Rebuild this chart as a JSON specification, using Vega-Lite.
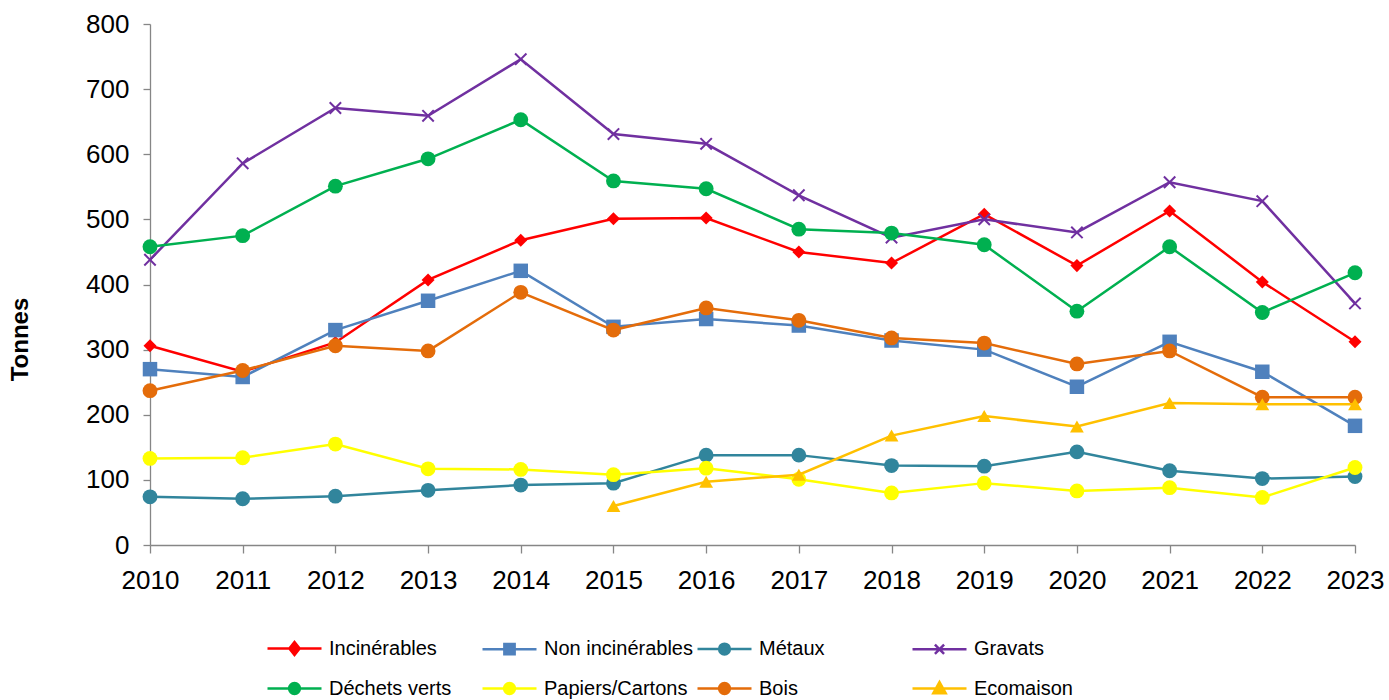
{
  "$schema": "https://vega.github.io/schema/vega-lite/v6.json",
  "autosize": {"type": "none"},
  "width": 1205,
  "height": 521,
  "padding": {"left": 150, "top": 24, "right": 34, "bottom": 155},
  "background": "#ffffff",
  "config": {
    "font": "Liberation Sans",
    "view": {"stroke": null},
    "axis": {"grid": false, "domainColor": "#868686", "tickColor": "#868686", "labelColor": "#000000", "labelFont": "Liberation Sans", "labelFontSize": 26, "domainWidth": 1.3, "tickWidth": 1.3}
  },
  "data": {"values": [
    {"serie": "Incinérables", "annee": 2010, "tonnes": 306},
    {"serie": "Incinérables", "annee": 2011, "tonnes": 266},
    {"serie": "Incinérables", "annee": 2012, "tonnes": 311},
    {"serie": "Incinérables", "annee": 2013, "tonnes": 407},
    {"serie": "Incinérables", "annee": 2014, "tonnes": 468},
    {"serie": "Incinérables", "annee": 2015, "tonnes": 501},
    {"serie": "Incinérables", "annee": 2016, "tonnes": 502},
    {"serie": "Incinérables", "annee": 2017, "tonnes": 450},
    {"serie": "Incinérables", "annee": 2018, "tonnes": 433},
    {"serie": "Incinérables", "annee": 2019, "tonnes": 508},
    {"serie": "Incinérables", "annee": 2020, "tonnes": 429},
    {"serie": "Incinérables", "annee": 2021, "tonnes": 513},
    {"serie": "Incinérables", "annee": 2022, "tonnes": 404},
    {"serie": "Incinérables", "annee": 2023, "tonnes": 312},
    {"serie": "Non incinérables", "annee": 2010, "tonnes": 270},
    {"serie": "Non incinérables", "annee": 2011, "tonnes": 258},
    {"serie": "Non incinérables", "annee": 2012, "tonnes": 330},
    {"serie": "Non incinérables", "annee": 2013, "tonnes": 375},
    {"serie": "Non incinérables", "annee": 2014, "tonnes": 421},
    {"serie": "Non incinérables", "annee": 2015, "tonnes": 335},
    {"serie": "Non incinérables", "annee": 2016, "tonnes": 347},
    {"serie": "Non incinérables", "annee": 2017, "tonnes": 337},
    {"serie": "Non incinérables", "annee": 2018, "tonnes": 314},
    {"serie": "Non incinérables", "annee": 2019, "tonnes": 300},
    {"serie": "Non incinérables", "annee": 2020, "tonnes": 243},
    {"serie": "Non incinérables", "annee": 2021, "tonnes": 312},
    {"serie": "Non incinérables", "annee": 2022, "tonnes": 266},
    {"serie": "Non incinérables", "annee": 2023, "tonnes": 183},
    {"serie": "Métaux", "annee": 2010, "tonnes": 74},
    {"serie": "Métaux", "annee": 2011, "tonnes": 71},
    {"serie": "Métaux", "annee": 2012, "tonnes": 75},
    {"serie": "Métaux", "annee": 2013, "tonnes": 84},
    {"serie": "Métaux", "annee": 2014, "tonnes": 92},
    {"serie": "Métaux", "annee": 2015, "tonnes": 95},
    {"serie": "Métaux", "annee": 2016, "tonnes": 138},
    {"serie": "Métaux", "annee": 2017, "tonnes": 138},
    {"serie": "Métaux", "annee": 2018, "tonnes": 122},
    {"serie": "Métaux", "annee": 2019, "tonnes": 121},
    {"serie": "Métaux", "annee": 2020, "tonnes": 143},
    {"serie": "Métaux", "annee": 2021, "tonnes": 114},
    {"serie": "Métaux", "annee": 2022, "tonnes": 102},
    {"serie": "Métaux", "annee": 2023, "tonnes": 105},
    {"serie": "Gravats", "annee": 2010, "tonnes": 438},
    {"serie": "Gravats", "annee": 2011, "tonnes": 586},
    {"serie": "Gravats", "annee": 2012, "tonnes": 671},
    {"serie": "Gravats", "annee": 2013, "tonnes": 659},
    {"serie": "Gravats", "annee": 2014, "tonnes": 746},
    {"serie": "Gravats", "annee": 2015, "tonnes": 631},
    {"serie": "Gravats", "annee": 2016, "tonnes": 616},
    {"serie": "Gravats", "annee": 2017, "tonnes": 537},
    {"serie": "Gravats", "annee": 2018, "tonnes": 472},
    {"serie": "Gravats", "annee": 2019, "tonnes": 500},
    {"serie": "Gravats", "annee": 2020, "tonnes": 480},
    {"serie": "Gravats", "annee": 2021, "tonnes": 557},
    {"serie": "Gravats", "annee": 2022, "tonnes": 528},
    {"serie": "Gravats", "annee": 2023, "tonnes": 371},
    {"serie": "Déchets verts", "annee": 2010, "tonnes": 458},
    {"serie": "Déchets verts", "annee": 2011, "tonnes": 475},
    {"serie": "Déchets verts", "annee": 2012, "tonnes": 551},
    {"serie": "Déchets verts", "annee": 2013, "tonnes": 593},
    {"serie": "Déchets verts", "annee": 2014, "tonnes": 653},
    {"serie": "Déchets verts", "annee": 2015, "tonnes": 559},
    {"serie": "Déchets verts", "annee": 2016, "tonnes": 547},
    {"serie": "Déchets verts", "annee": 2017, "tonnes": 485},
    {"serie": "Déchets verts", "annee": 2018, "tonnes": 479},
    {"serie": "Déchets verts", "annee": 2019, "tonnes": 461},
    {"serie": "Déchets verts", "annee": 2020, "tonnes": 359},
    {"serie": "Déchets verts", "annee": 2021, "tonnes": 458},
    {"serie": "Déchets verts", "annee": 2022, "tonnes": 357},
    {"serie": "Déchets verts", "annee": 2023, "tonnes": 418},
    {"serie": "Papiers/Cartons", "annee": 2010, "tonnes": 133},
    {"serie": "Papiers/Cartons", "annee": 2011, "tonnes": 134},
    {"serie": "Papiers/Cartons", "annee": 2012, "tonnes": 155},
    {"serie": "Papiers/Cartons", "annee": 2013, "tonnes": 117},
    {"serie": "Papiers/Cartons", "annee": 2014, "tonnes": 116},
    {"serie": "Papiers/Cartons", "annee": 2015, "tonnes": 108},
    {"serie": "Papiers/Cartons", "annee": 2016, "tonnes": 118},
    {"serie": "Papiers/Cartons", "annee": 2017, "tonnes": 101},
    {"serie": "Papiers/Cartons", "annee": 2018, "tonnes": 80},
    {"serie": "Papiers/Cartons", "annee": 2019, "tonnes": 95},
    {"serie": "Papiers/Cartons", "annee": 2020, "tonnes": 83},
    {"serie": "Papiers/Cartons", "annee": 2021, "tonnes": 88},
    {"serie": "Papiers/Cartons", "annee": 2022, "tonnes": 73},
    {"serie": "Papiers/Cartons", "annee": 2023, "tonnes": 119},
    {"serie": "Bois", "annee": 2010, "tonnes": 237},
    {"serie": "Bois", "annee": 2011, "tonnes": 268},
    {"serie": "Bois", "annee": 2012, "tonnes": 306},
    {"serie": "Bois", "annee": 2013, "tonnes": 298},
    {"serie": "Bois", "annee": 2014, "tonnes": 388},
    {"serie": "Bois", "annee": 2015, "tonnes": 330},
    {"serie": "Bois", "annee": 2016, "tonnes": 364},
    {"serie": "Bois", "annee": 2017, "tonnes": 345},
    {"serie": "Bois", "annee": 2018, "tonnes": 318},
    {"serie": "Bois", "annee": 2019, "tonnes": 310},
    {"serie": "Bois", "annee": 2020, "tonnes": 278},
    {"serie": "Bois", "annee": 2021, "tonnes": 298},
    {"serie": "Bois", "annee": 2022, "tonnes": 227},
    {"serie": "Bois", "annee": 2023, "tonnes": 227},
    {"serie": "Ecomaison", "annee": 2015, "tonnes": 60},
    {"serie": "Ecomaison", "annee": 2016, "tonnes": 97},
    {"serie": "Ecomaison", "annee": 2017, "tonnes": 108},
    {"serie": "Ecomaison", "annee": 2018, "tonnes": 168},
    {"serie": "Ecomaison", "annee": 2019, "tonnes": 198},
    {"serie": "Ecomaison", "annee": 2020, "tonnes": 182},
    {"serie": "Ecomaison", "annee": 2021, "tonnes": 218},
    {"serie": "Ecomaison", "annee": 2022, "tonnes": 216},
    {"serie": "Ecomaison", "annee": 2023, "tonnes": 216}
  ]},
  "layer": [
    {"mark": {"type": "point", "filled": true, "opacity": 0},
     "encoding": {
       "x": {"field": "annee", "type": "ordinal", "scale": {"type": "point", "padding": 0},
         "axis": {"title": null, "labelAngle": 0, "tickSize": 8, "labelPadding": 14}},
       "y": {"field": "tonnes", "type": "quantitative", "scale": {"domain": [0, 800], "nice": false},
         "axis": {"title": "Tonnes", "values": [0, 100, 200, 300, 400, 500, 600, 700, 800], "tickSize": 7, "labelPadding": 14,
           "titleFont": "Liberation Sans", "titleFontSize": 24, "titleFontWeight": "bold", "titleColor": "#000000",
           "titleAngle": -90, "titleX": -130, "titleY": 315, "titleAlign": "center", "titleBaseline": "middle"}},
       "color": {"field": "serie", "type": "nominal",
         "scale": {"domain": ["Incinérables", "Non incinérables", "Métaux", "Gravats", "Déchets verts", "Papiers/Cartons", "Bois", "Ecomaison"],
           "range": ["#FF0000", "#4F81BD", "#31859C", "#7030A0", "#00B050", "#FFFF00", "#E46C0A", "#FFC000"]},
         "legend": {"title": null, "orient": "none", "legendX": 116, "legendY": 596, "direction": "horizontal", "columns": 4,
           "gridAlign": "all", "columnPadding": -1, "rowPadding": -17, "labelFont": "Liberation Sans", "labelFontSize": 20, "labelColor": "#000000",
           "labelOffset": 6, "symbolSize": 2916, "symbolOpacity": 1, "symbolStrokeWidth": 2.5, "labelLimit": 300}},
       "shape": {"field": "serie", "type": "nominal",
         "scale": {"domain": ["Incinérables", "Non incinérables", "Métaux", "Gravats", "Déchets verts", "Papiers/Cartons", "Bois", "Ecomaison"],
           "range": [
             "M-1,0H1M0,-0.24L0.19,0L0,0.24L-0.19,0Z",
             "M-1,0H1M-0.19,-0.19H0.19V0.19H-0.19Z",
             "M-1,0H1M0.2,0A0.2,0.2 0 1,1 -0.2,0A0.2,0.2 0 1,1 0.2,0Z",
             "M-1,0H1M-0.17,-0.17L0.17,0.17M-0.17,0.17L0.17,-0.17",
             "M-1,0H1M0.2,0A0.2,0.2 0 1,1 -0.2,0A0.2,0.2 0 1,1 0.2,0Z",
             "M-1,0H1M0.2,0A0.2,0.2 0 1,1 -0.2,0A0.2,0.2 0 1,1 0.2,0Z",
             "M-1,0H1M0.2,0A0.2,0.2 0 1,1 -0.2,0A0.2,0.2 0 1,1 0.2,0Z",
             "M-1,0H1M0,-0.24L0.23,0.18H-0.23Z"
           ]},
         "legend": {"title": null, "orient": "none", "legendX": 116, "legendY": 596, "direction": "horizontal", "columns": 4,
           "gridAlign": "all", "columnPadding": -1, "rowPadding": -17, "labelFont": "Liberation Sans", "labelFontSize": 20, "labelColor": "#000000",
           "labelOffset": 6, "symbolSize": 2916, "symbolOpacity": 1, "symbolStrokeWidth": 2.5, "labelLimit": 300}}
     }},
    {"layer": [
      {"transform": [{"filter": "datum.serie === 'Incinérables'"}],
       "mark": {"type": "line", "strokeWidth": 2.5, "point": {"shape": "diamond", "size": 170, "filled": true, "opacity": 1}}},
      {"transform": [{"filter": "datum.serie === 'Non incinérables'"}],
       "mark": {"type": "line", "strokeWidth": 2.5, "point": {"shape": "square", "size": 210, "filled": true, "opacity": 1}}},
      {"transform": [{"filter": "datum.serie === 'Métaux'"}],
       "mark": {"type": "line", "strokeWidth": 2.5, "point": {"shape": "circle", "size": 220, "filled": true, "opacity": 1}}},
      {"transform": [{"filter": "datum.serie === 'Gravats'"}],
       "mark": {"type": "line", "strokeWidth": 2.5, "point": {"shape": "M-1,-1L1,1M-1,1L1,-1", "size": 130, "filled": false, "strokeWidth": 2, "opacity": 1}}},
      {"transform": [{"filter": "datum.serie === 'Déchets verts'"}],
       "mark": {"type": "line", "strokeWidth": 2.5, "point": {"shape": "circle", "size": 220, "filled": true, "opacity": 1}}},
      {"transform": [{"filter": "datum.serie === 'Papiers/Cartons'"}],
       "mark": {"type": "line", "strokeWidth": 2.5, "point": {"shape": "circle", "size": 220, "filled": true, "opacity": 1}}},
      {"transform": [{"filter": "datum.serie === 'Bois'"}],
       "mark": {"type": "line", "strokeWidth": 2.5, "point": {"shape": "circle", "size": 220, "filled": true, "opacity": 1}}},
      {"transform": [{"filter": "datum.serie === 'Ecomaison'"}],
       "mark": {"type": "line", "strokeWidth": 2.5, "point": {"shape": "triangle-up", "size": 190, "filled": true, "opacity": 1}}}
     ],
     "encoding": {
       "x": {"field": "annee", "type": "ordinal"},
       "y": {"field": "tonnes", "type": "quantitative"},
       "color": {"field": "serie", "type": "nominal", "legend": null}
     }}
  ]
}
